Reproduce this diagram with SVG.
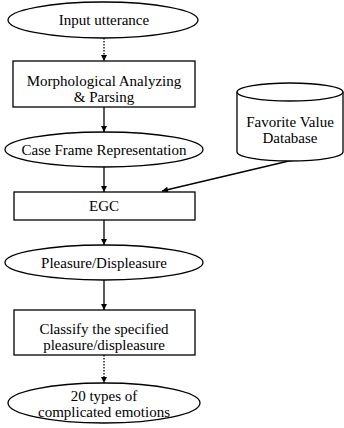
<svg xmlns="http://www.w3.org/2000/svg" width="344" height="428" viewBox="0 0 344 428">
<style>
.s{fill:#fff;stroke:#000;stroke-width:1.3}
.t{font-family:"Liberation Serif","Times New Roman",serif;font-size:15px;fill:#000;text-anchor:middle}
.c{stroke:#000;stroke-width:1.3;fill:none}
.d{stroke-dasharray:1.5,1.5}
</style>
<defs>
<marker id="ah" viewBox="0 0 10 10" refX="10" refY="5" markerWidth="8" markerHeight="6" markerUnits="userSpaceOnUse" orient="auto">
<path d="M0,0 L10,5 L0,10 z" fill="#000"/>
</marker>
</defs>
<rect width="344" height="428" fill="#fff"/>
<g id="connectors">
<line class="c d" x1="104" y1="38" x2="104" y2="61" marker-end="url(#ah)"/>
<line class="c" x1="104" y1="107" x2="104" y2="132" marker-end="url(#ah)"/>
<line class="c" x1="104" y1="167" x2="104" y2="192" marker-end="url(#ah)"/>
<line class="c" x1="104" y1="220" x2="104" y2="245" marker-end="url(#ah)"/>
<line class="c" x1="104" y1="280" x2="104" y2="310" marker-end="url(#ah)"/>
<line class="c d" x1="104" y1="355" x2="104" y2="383" marker-end="url(#ah)"/>
<line class="c" x1="293" y1="160" x2="162" y2="191" marker-end="url(#ah)"/>
</g>
<g id="input">
<ellipse class="s" cx="103" cy="20" rx="95" ry="18"/>
<text class="t" x="104" y="25">Input utterance</text>
</g>
<g id="morph">
<rect class="s" x="13" y="61" width="182" height="46"/>
<text class="t" x="104" y="86">Morphological Analyzing</text>
<text class="t" x="104" y="102">&amp; Parsing</text>
</g>
<g id="caseframe">
<ellipse class="s" cx="104" cy="149.5" rx="99" ry="17.5"/>
<text class="t" x="104" y="155">Case Frame Representation</text>
</g>
<g id="db">
<path class="s" d="M237,92 L237,152 A53,9 0 0 0 343,152 L343,92"/>
<ellipse class="s" cx="290" cy="92" rx="53" ry="9"/>
<text class="t" x="290" y="127">Favorite Value</text>
<text class="t" x="290" y="143">Database</text>
</g>
<g id="egc">
<rect class="s" x="14" y="192" width="181" height="28"/>
<text class="t" x="104" y="211">EGC</text>
</g>
<g id="pleasure">
<ellipse class="s" cx="104" cy="262.5" rx="99" ry="17.5"/>
<text class="t" x="104" y="268">Pleasure/Displeasure</text>
</g>
<g id="classify">
<rect class="s" x="14" y="310" width="181" height="45"/>
<text class="t" x="104" y="334">Classify the specified</text>
<text class="t" x="104" y="350">pleasure/displeasure</text>
</g>
<g id="emotions">
<ellipse class="s" cx="104" cy="403" rx="96" ry="20"/>
<text class="t" x="104" y="401">20 types of</text>
<text class="t" x="104" y="417">complicated emotions</text>
</g>
</svg>
